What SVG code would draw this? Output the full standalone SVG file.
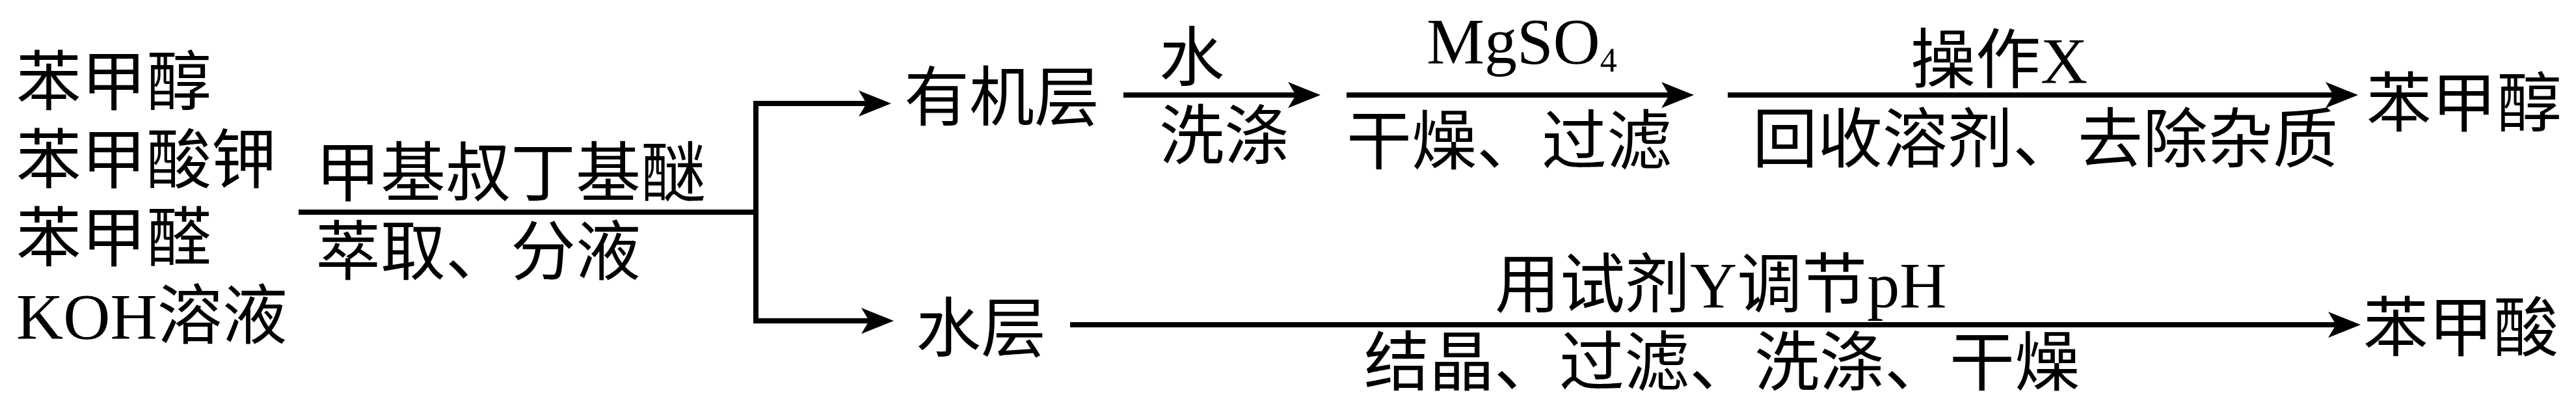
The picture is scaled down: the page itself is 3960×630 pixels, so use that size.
<svg xmlns="http://www.w3.org/2000/svg" width="3960" height="630" viewBox="0 0 3960 630">
<style>
text{font-family:"Liberation Serif","Noto Sans CJK SC",serif;font-size:100px;fill:#000}
.sub{font-size:52px}
.ln{fill:none;stroke:#000;stroke-width:8;stroke-linecap:butt;stroke-linejoin:miter}
</style>
<defs>
<marker id="ah" viewBox="0 0 50 40" markerWidth="50" markerHeight="40" markerUnits="userSpaceOnUse" refX="30" refY="20" orient="auto">
<path d="M0,0 L50,20 L0,40 L12,20 Z" fill="#000"/>
</marker>
</defs>
<rect width="3960" height="630" fill="#fff"/>
<g id="connectors">
<path class="ln" d="M459,326 H1162"/>
<path class="ln" d="M1162,159 H1350" marker-end="url(#ah)"/>
<path class="ln" d="M1162,155 V493 H1354" marker-end="url(#ah)"/>
<path class="ln" d="M1727,146 H2010" marker-end="url(#ah)"/>
<path class="ln" d="M2070,146 H2584" marker-end="url(#ah)"/>
<path class="ln" d="M2656,146 H3605" marker-end="url(#ah)"/>
<path class="ln" d="M1645,499 H3609" marker-end="url(#ah)"/>
</g>
<g id="feed">
<text x="25" y="161">苯甲醇</text>
<text x="25" y="281">苯甲酸钾</text>
<text x="25" y="401">苯甲醛</text>
<text x="25" y="520">KOH溶液</text>
</g>
<g id="label-extract">
<text x="485" y="301">甲基叔丁基醚</text>
<text x="485" y="422">萃取、分液</text>
</g>
<g id="organic-layer">
<text x="1390" y="185">有机层</text>
</g>
<g id="label-wash">
<text x="1782" y="124">水</text>
<text x="1782" y="244">洗涤</text>
</g>
<g id="label-dry">
<text x="2193" y="97">MgSO<tspan class="sub" dy="13">4</tspan></text>
<text x="2070" y="252">干燥、过滤</text>
</g>
<g id="label-opx">
<text x="2937" y="127">操作X</text>
<text x="2694" y="249">回收溶剂、去除杂质</text>
</g>
<g id="benzyl-alcohol">
<text x="3638" y="194">苯甲醇</text>
</g>
<g id="aqueous-layer">
<text x="1408" y="540">水层</text>
</g>
<g id="label-ph">
<text x="2298" y="472">用试剂Y调节pH</text>
<text x="2097" y="592">结晶、过滤、洗涤、干燥</text>
</g>
<g id="benzoic-acid">
<text x="3633" y="539">苯甲酸</text>
</g>
</svg>
